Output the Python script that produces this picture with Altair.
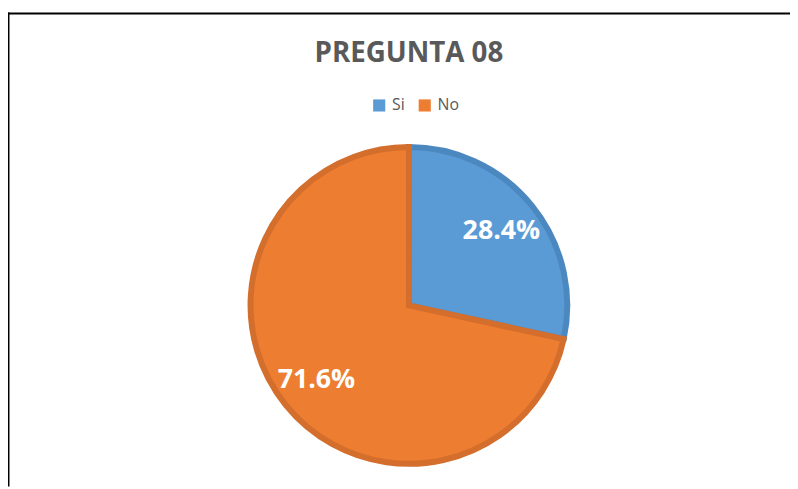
import altair as alt
import pandas as pd

categories = ["Si", "No"]
values = [28.4, 71.6]
label_texts = ["28.4%", "71.6%"]
title_text = "PREGUNTA 08"

fill_colors = ["#5B9BD5", "#ED7D31"]
stroke_colors = ["#4C88C0", "#D46E2C"]

df = pd.DataFrame({
    "cat": categories,
    "value": values,
    "label": label_texts,
    "order": list(range(len(categories))),
})
title_df = pd.DataFrame({"t": [title_text]})

W, H = 790, 481
CX, CY = 405, 298
FONT = "Open Sans"

base = alt.Chart(df)

arcs = base.mark_arc(outerRadius=160, strokeWidth=6, strokeJoin="miter").encode(
    theta=alt.Theta("value:Q", stack=True),
    order=alt.Order("order:Q"),
    color=alt.Color(
        "cat:N",
        scale=alt.Scale(domain=categories, range=fill_colors),
        legend=alt.Legend(
            title=None,
            orient="none",
            legendX=367,
            legendY=88,
            direction="horizontal",
            symbolType="square",
            symbolSize=150,
            symbolStrokeWidth=0,
            labelFont=FONT,
            labelFontSize=16,
            labelColor="#595959",
            labelOffset=5,
            columnPadding=12,
            padding=0,
        ),
    ),
    stroke=alt.Stroke(
        "cat:N",
        scale=alt.Scale(domain=categories, range=stroke_colors),
        legend=None,
    ),
    x=alt.value(CX),
    y=alt.value(CY),
)

labels = base.mark_text(
    radius=120,
    font=FONT,
    fontSize=27,
    fontWeight="bold",
    color="white",
    align="center",
    baseline="middle",
).encode(
    theta=alt.Theta("value:Q", stack=True),
    order=alt.Order("order:Q"),
    text="label:N",
    x=alt.value(CX),
    y=alt.value(CY),
)

title = alt.Chart(title_df).mark_text(
    font=FONT,
    fontSize=28,
    fontWeight="bold",
    color="#595959",
    align="center",
    baseline="alphabetic",
).encode(
    text="t:N",
    x=alt.value(CX),
    y=alt.value(52),
)

left_border = alt.Chart(title_df).mark_rule(color="black", strokeWidth=2).encode(
    x=alt.value(0.5), y=alt.value(2), y2=alt.value(H)
)
top_border = alt.Chart(title_df).mark_rule(color="black", strokeWidth=2).encode(
    x=alt.value(-1), x2=alt.value(W), y=alt.value(3)
)

chart = alt.layer(left_border, top_border, arcs, labels, title).properties(
    width=W,
    height=H,
    autosize=alt.AutoSizeParams(type="none"),
    padding=0,
    background="white",
).configure_view(stroke=None)

chart.save("out.html", embed_options={"renderer": "svg", "actions": False})
